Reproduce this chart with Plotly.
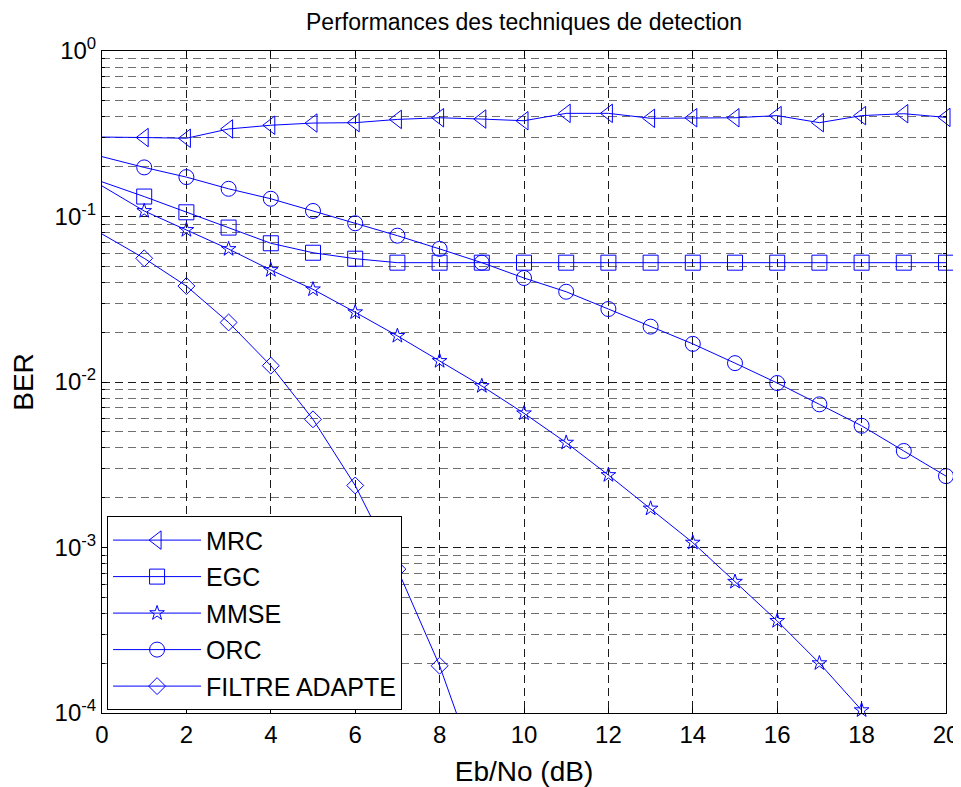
import plotly.graph_objects as go

ebno = list(range(0, 21))

mrc = [0.302, 0.300, 0.297, 0.338, 0.356, 0.367, 0.369, 0.386, 0.395, 0.388, 0.379,
       0.420, 0.420, 0.392, 0.395, 0.395, 0.407, 0.369, 0.407, 0.418, 0.397]
egc = [0.162, 0.132, 0.106, 0.0857, 0.0689, 0.0604, 0.0556, 0.0526, 0.0526, 0.0526, 0.0526,
       0.0526, 0.0526, 0.0526, 0.0526, 0.0526, 0.0526, 0.0526, 0.0526, 0.0526, 0.0526]
mmse = [0.153, 0.108, 0.0829, 0.0636, 0.0475, 0.0363, 0.0264, 0.0190, 0.0134, 0.00946, 0.00647,
        0.00430, 0.00274, 0.00172, 0.00107, 0.000621, 0.000360, 0.000200, 0.000104, None, None]
orc = [0.230, 0.198, 0.173, 0.147, 0.128, 0.108, 0.0910, 0.0766, 0.0637, 0.0526, 0.0425,
       0.0351, 0.0276, 0.0216, 0.0170, 0.0130, 0.00986, 0.00733, 0.00544, 0.00383, 0.00270]
filtre = [0.0784, 0.0559, 0.0380, 0.0229, 0.01255, 0.00595, 0.00237, 0.00074, 0.000193, 0.000037,
          None, None, None, None, None, None, None, None, None, None, None]

series_names = ["MRC", "EGC", "MMSE", "ORC", "FILTRE ADAPTE"]
series_values = [mrc, egc, mmse, orc, filtre]
symbols = ["triangle-left-open", "square-open", "star-open", "circle-open", "diamond-open"]
sizes = [16, 15, 11, 15, 13]
clip = [False, False, False, False, True]

ytick_vals = [1e-4, 1e-3, 1e-2, 1e-1, 1]
ytick_text = ["10<sup>-4</sup>", "10<sup>-3</sup>", "10<sup>-2</sup>", "10<sup>-1</sup>", "10<sup>0</sup>"]
xtick_vals = [0, 2, 4, 6, 8, 10, 12, 14, 16, 18, 20]

BLUE = "#0000ff"
FONT = "Arial, Liberation Sans, Helvetica, sans-serif"

# the page places the figure 8px from the top-left corner of the window
W, H = 953, 779

fig = go.Figure()
for name, vals, sym, sz, cl in zip(series_names, series_values, symbols, sizes, clip):
    # segment from x=0 to x=1 (no marker at x=0)
    fig.add_trace(go.Scatter(
        x=ebno[:2], y=vals[:2], mode="lines",
        line=dict(color=BLUE, width=1), showlegend=False, legendgroup=name,
        hoverinfo="skip"))
    fig.add_trace(go.Scatter(
        x=ebno[1:], y=vals[1:], mode="lines+markers", name=name, legendgroup=name,
        line=dict(color=BLUE, width=1),
        marker=dict(symbol=sym, size=sz, color=BLUE, line=dict(color=BLUE, width=1)),
        cliponaxis=cl))

minor_vals = [m * 10 ** e for e in range(-4, 0) for m in range(2, 10)]

fig.update_layout(
    width=W, height=H,
    margin=dict(l=94, r=15, t=43, b=74, autoexpand=False),
    paper_bgcolor="white", plot_bgcolor="white",
    font=dict(family=FONT, color="black", size=24),
    title=dict(text="Performances des techniques de detection", x=516 / W, xanchor="center",
               xref="container", y=1 - 14 / H, yref="container", yanchor="middle",
               font=dict(size=23, color="black")),
    legend=dict(x=0.006, y=0.004, xanchor="left", yanchor="bottom",
                bgcolor="white", bordercolor="black", borderwidth=1,
                font=dict(size=25, color="black"), tracegroupgap=1, itemwidth=88),
    showlegend=True,
)
fig.update_xaxes(
    range=[0, 20], tickvals=xtick_vals, ticks="inside", ticklen=5, tickcolor="black",
    showline=True, linecolor="black", linewidth=1, mirror="ticks",
    showgrid=True, gridcolor="#1a1a1a", gridwidth=1, griddash="8px,5px",
    zeroline=False, tickfont=dict(size=24), automargin=False,
    title=dict(text="Eb/No (dB)", font=dict(size=28), standoff=14),
)
fig.update_yaxes(
    type="log", range=[-4, 0], tickmode="array", tickvals=ytick_vals, ticktext=ytick_text,
    ticks="inside", ticklen=5, tickcolor="black",
    showline=True, linecolor="black", linewidth=1, mirror="ticks",
    showgrid=True, gridcolor="#1a1a1a", gridwidth=1, griddash="8px,5px",
    zeroline=False, tickfont=dict(size=24), automargin=False,
    minor=dict(tickmode="array", tickvals=minor_vals, ticks="inside", ticklen=3,
               tickcolor="black", showgrid=True, gridcolor="#707070", gridwidth=1,
               griddash="8px,5px"),
    title=dict(text="BER", font=dict(size=28), standoff=15),
)

fig.write_html("out.html")
